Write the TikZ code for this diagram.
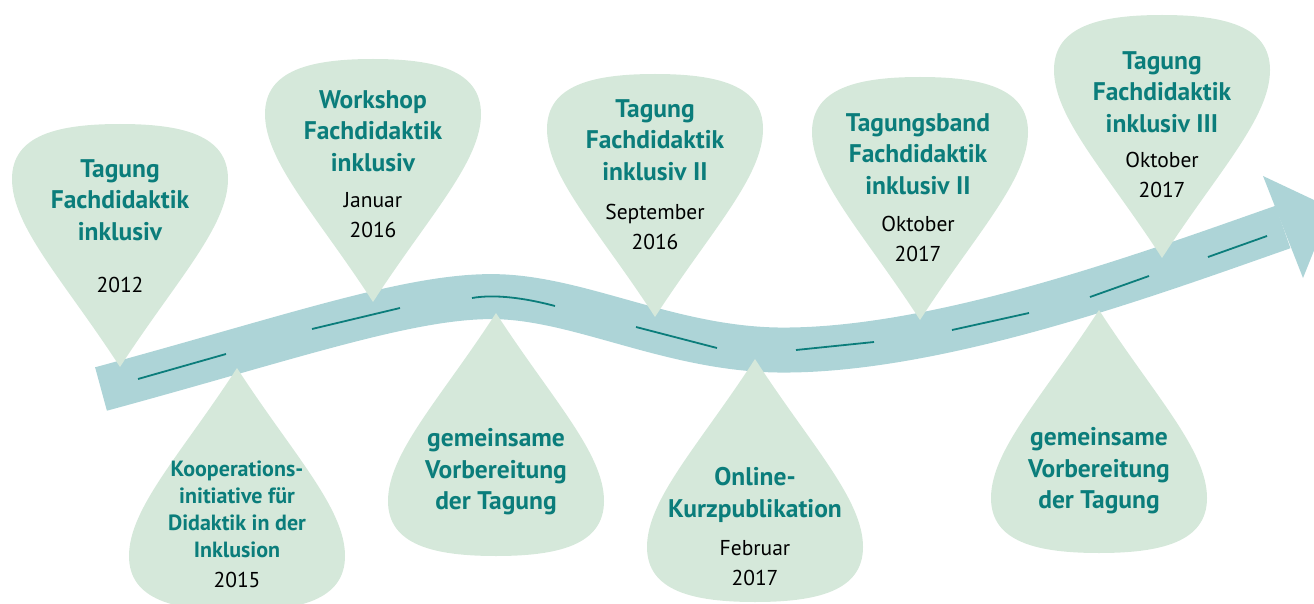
\documentclass[tikz,border=0pt]{standalone}
\usepackage{fontspec}
\setmainfont{PT Sans}
\definecolor{roadblue}{HTML}{ADD4D7}
\definecolor{dropgreen}{HTML}{D5E8DA}
\definecolor{titleteal}{HTML}{0B7D7B}

\begin{document}
\begin{tikzpicture}[x=1pt,y=-1pt,
  road/.style={draw=roadblue,line width=45pt},
  roadmark/.style={draw=titleteal,line width=1.8pt},
  drop/.style={fill=dropgreen},
  title/.style={text=titleteal,font=\bfseries\fontsize{25.5}{31.5}\selectfont,align=center},
  small title/.style={text=titleteal,font=\bfseries\fontsize{22}{27}\selectfont,align=center},
  date/.style={text=black,font=\fontsize{21.5}{30}\selectfont,align=center}]

\path[use as bounding box] (0,0) rectangle (1314,604);
\clip (0,0) rectangle (1314,604);

\draw[road] (101,389) .. controls (300,335) and (420,292) .. (505,297)
.. controls (590,302) and (680,352) .. (790,350)
.. controls (950,348) and (1160,270) .. (1283,227);

\fill[roadblue] (1263,176) -- (1331,208) -- (1303,278) -- cycle;

\foreach \xa/\ya/\xb/\yb in {138/379/226/354, 312/329/400/308, 636/327/717/348, 796/350/874/342,
  952/330/1029/313, 1090/297/1149/276, 1208/257/1267/236}
  \draw[roadmark] (\xa,\ya) -- (\xb,\yb);

\draw[roadmark] (472,298) .. controls (495,294) and (525,298) .. (555,306);


\foreach \x/\y/\s in {120/367/1, 373/302/1, 655/317/1, 920/320/1, 1162/258/1,
  237/368/-1, 496/313/-1, 755/359/-1, 1099/310/-1}
  \fill[drop,shift={(\x,\y)},yscale=\s] (0,0) .. controls (-55,-85) and (-108,-140) .. (-108,-188)
  .. controls (-108,-232) and (-62,-243) .. (0,-243)
  .. controls (62,-243) and (108,-232) .. (108,-188)
  .. controls (108,-140) and (55,-85) .. (0,0) -- cycle;


\node[title] (tagung1) at (120,200) {Tagung\\Fachdidaktik\\inklusiv};
\node[date] (jahr1) at (120,285) {2012};

\node[title] (workshop) at (373,131) {Workshop\\Fachdidaktik\\inklusiv};
\node[date] (jahr2) at (373,215) {Januar\\2016};

\node[title] (tagung2) at (655,140) {Tagung\\Fachdidaktik\\inklusiv II};
\node[date] (jahr3) at (655,227) {September\\2016};

\node[title] (band) at (918,154) {Tagungsband\\Fachdidaktik\\inklusiv II};
\node[date] (jahr4) at (918,239) {Oktober\\2017};

\node[title] (tagung3) at (1162,92) {Tagung\\Fachdidaktik\\inklusiv III};
\node[date] (jahr5) at (1162,175) {Oktober\\2017};

\node[small title] (koop) at (237,509) {Kooperations-\\initiative für\\Didaktik in der\\Inklusion};
\node[date] (jahr6) at (237,580) {2015};

\node[title] (vorb1) at (496,472) {gemeinsame\\Vorbereitung\\der Tagung};

\node[title] (online) at (755,495) {Online-\\Kurzpublikation};
\node[date] (jahr7) at (755,563) {Februar\\2017};

\node[title] (vorb2) at (1099,471) {gemeinsame\\Vorbereitung\\der Tagung};
\end{tikzpicture}
\end{document}
